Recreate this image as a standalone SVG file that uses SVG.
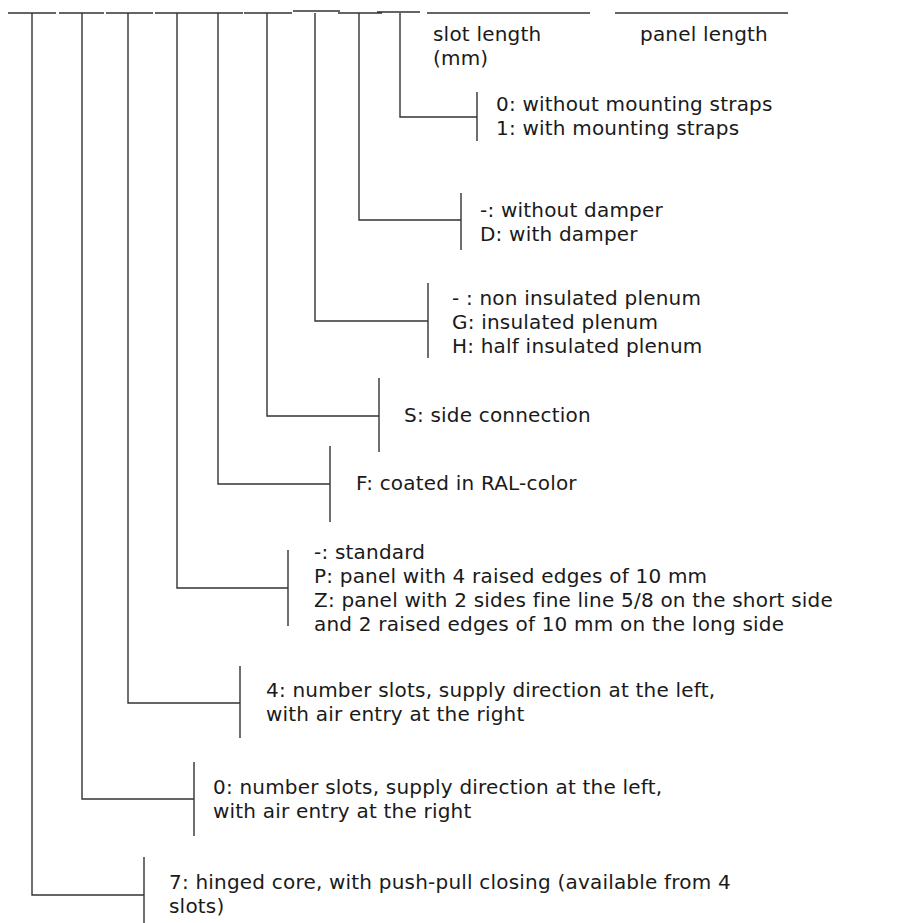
<svg xmlns="http://www.w3.org/2000/svg" width="904" height="923" viewBox="0 0 904 923">
<style>
.ln{fill:none;stroke:#333;stroke-width:1.4}
.t{font-family:"DejaVu Sans",sans-serif;font-size:20px;letter-spacing:0.2px;fill:#1a1a1a}
</style>
<rect width="904" height="923" fill="#fff"/>
<g id="code-line" class="ln">
<path d="M8 13H56M59 13H104M106 13H153M155 13H196M196 13H243M244 13H292M293 11H340M338 13H382M377 12H420M427 13H590M615 13H788"/>
</g>
<g id="connectors" class="ln">
<path d="M400 13V117H477M477 92V141"/>
<path d="M359 13V220H461M461 193V250"/>
<path d="M315 13V321H428M428 283V358"/>
<path d="M267 13V416H379M379 378V452"/>
<path d="M218 13V484H330M330 446V522"/>
<path d="M177 13V588H288M288 550V626"/>
<path d="M128 13V703H240M240 666V738"/>
<path d="M82 13V799H194M194 762V836"/>
<path d="M32 13V895H144M144 857V933"/>
</g>
<g id="slot-length"><text class="t" x="433" y="41">slot length</text><text class="t" x="433" y="65">(mm)</text></g>
<g id="panel-length"><text class="t" x="640" y="41">panel length</text></g>
<g id="straps"><text class="t" x="496" y="111">0: without mounting straps</text><text class="t" x="496" y="135">1: with mounting straps</text></g>
<g id="damper"><text class="t" x="480" y="217">-: without damper</text><text class="t" x="480" y="241">D: with damper</text></g>
<g id="plenum"><text class="t" x="452" y="305">- : non insulated plenum</text><text class="t" x="452" y="329">G: insulated plenum</text><text class="t" x="452" y="353">H: half insulated plenum</text></g>
<g id="side"><text class="t" x="404" y="422">S: side connection</text></g>
<g id="coated"><text class="t" x="356" y="490">F: coated in RAL-color</text></g>
<g id="panel"><text class="t" x="314" y="559">-: standard</text><text class="t" x="314" y="583">P: panel with 4 raised edges of 10 mm</text><text class="t" x="314" y="607">Z: panel with 2 sides fine line 5/8 on the short side</text><text class="t" x="314" y="631">and 2 raised edges of 10 mm on the long side</text></g>
<g id="slots4"><text class="t" x="266" y="697">4: number slots, supply direction at the left,</text><text class="t" x="266" y="721">with air entry at the right</text></g>
<g id="slots0"><text class="t" x="213" y="794">0: number slots, supply direction at the left,</text><text class="t" x="213" y="818">with air entry at the right</text></g>
<g id="hinged"><text class="t" x="169" y="889">7: hinged core, with push-pull closing (available from 4</text><text class="t" x="169" y="913">slots)</text></g>
</svg>
